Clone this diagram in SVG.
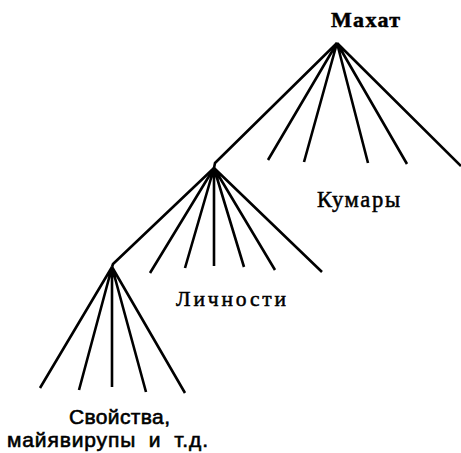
<svg xmlns="http://www.w3.org/2000/svg" width="461" height="453" viewBox="0 0 461 453">
<style>
.ln{stroke:#000;stroke-width:2.6;fill:none;stroke-linecap:butt;stroke-linejoin:round}
.serif{font-family:"Liberation Serif","Times New Roman",serif;fill:#000;stroke:#000;stroke-width:0.5}
.sans{font-family:"Liberation Sans",Arial,sans-serif;fill:#000;stroke:#000;stroke-width:0.6}
</style>
<rect width="461" height="453" fill="#fff"/>
<g id="connectors">
<path class="ln" d="M337,43 L215,163 L214,168 L113,264 L112,267"/>
<path class="ln" d="M337,43 L268,160 M337,43 L304,162 M337,43 L368,163 M337,43 L407,164 M337,43 L461,166"/>
<path class="ln" d="M214,168 L150,273 M214,168 L185,268 M214,168 L214,266 M214,168 L244,267 M214,168 L275,270 M214,168 L322,272"/>
<path class="ln" d="M112,267 L40,388 M112,267 L79,390 M112,267 L112,387 M112,267 L146,392 M112,267 L185,393"/>
</g>
<g id="node-mahat"><text class="serif" x="331" y="27" font-size="22" font-weight="bold" stroke-width="0.3" textLength="69">Махат</text></g>
<g id="node-kumary"><text class="serif" x="317" y="207" font-size="22.5" textLength="83">Кумары</text></g>
<g id="node-lichnosti"><text class="serif" x="176" y="306" font-size="21.5" textLength="110">Личности</text></g>
<g id="node-svoistva">
<text class="sans" x="69" y="424" font-size="21" textLength="101">Свойства,</text>
<text class="sans" x="7" y="447" font-size="21" textLength="201" word-spacing="6">майявирупы и т.д.</text>
</g>
</svg>
